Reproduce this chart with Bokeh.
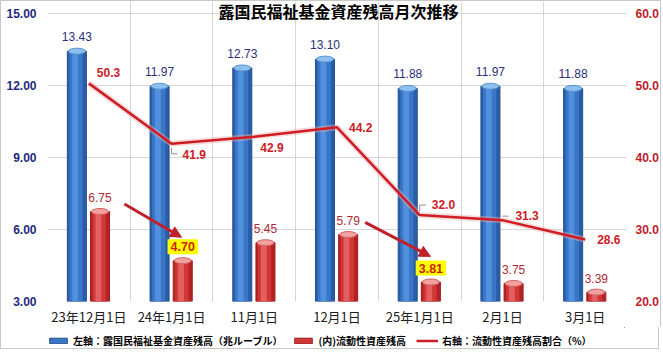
import numpy as np
from bokeh.plotting import figure
from bokeh.layouts import column
from bokeh.models import (Range1d, LinearAxis, FixedTicker, Label, Legend, LegendItem,
                          Arrow, NormalHead, NumeralTickFormatter)
from bokeh.core.properties import value
from bokeh.embed import file_html
from bokeh.resources import INLINE

# ---- data ----
categories = ["23年12月1日", "24年1月1日", "11月1日", "12月1日", "25年1月1日", "2月1日", "3月1日"]
fund_total = [13.43, 11.97, 12.73, 13.10, 11.88, 11.97, 11.88]      # 兆ルーブル (left axis)
liquid_assets = [6.75, 4.70, 5.45, 5.79, 3.81, 3.75, 3.39]         # 兆ルーブル (left axis)
liquid_ratio = [50.3, 41.9, 42.9, 44.2, 32.0, 31.3, 28.6]          # % (right axis)
highlight = [False, True, False, False, True, False, False]
left_ticks = [3, 6, 9, 12, 15]
right_ticks = [20, 30, 40, 50, 60]
title_text = "露国民福祉基金資産残高月次推移"
legend_labels = ["左軸：露国民福祉基金資産残高（兆ルーブル）", "(内)流動性資産残高", "右軸：流動性資産残高割合（%）"]

n = len(categories)
xs = np.arange(n)

JP = "Noto Sans CJK JP"
NUM = "Liberation Sans"
BORDER = "1px solid #c8c8c8"

BLUE = ("#2a5da8", "#24508f", "#3a76c6", "#5190dc", "#8cc0f0", "#5a8fd0")
RED = ("#b52226", "#a01e22", "#d03838", "#e46060", "#f2a0a0", "#d06060")
LINE = "#d01c22"

plot_px = 287.0
top_extra_px = 12.0
frame_h = int(plot_px + top_extra_px)
frame_w = 577
l_lo, l_hi = left_ticks[0], left_ticks[-1]
r_lo, r_hi = right_ticks[0], right_ticks[-1]
l_top = l_hi + top_extra_px * (l_hi - l_lo) / plot_px
r_top = r_hi + top_extra_px * (r_hi - r_lo) / plot_px

p = figure(frame_width=frame_w, frame_height=frame_h, output_backend="svg", toolbar_location=None,
           x_range=Range1d(-0.5, n - 0.5), y_range=Range1d(l_lo, l_top),
           min_border_left=46, min_border_right=36, min_border_top=0, min_border_bottom=26,
           background_fill_color="white", border_fill_color="white")
p.styles = {"border": BORDER, "border-bottom": "none"}
p.outline_line_color = None
p.extra_y_ranges = {"pct": Range1d(r_lo, r_top)}

p.xgrid.ticker = FixedTicker(ticks=list(np.arange(-0.5, n, 1.0)))
p.xgrid.bounds = (l_lo, l_hi)
p.xgrid.grid_line_color = "#d6d6d6"
p.ygrid.ticker = FixedTicker(ticks=left_ticks)
p.ygrid.bounds = (-0.5, n - 0.5)
p.ygrid.grid_line_color = "#d6d6d6"


def plain_axis(ax):
    ax.axis_line_color = None
    ax.major_tick_line_color = None
    ax.minor_tick_line_color = None
    ax.major_tick_out = 0
    ax.major_tick_in = 0
    ax.minor_tick_out = 0
    ax.minor_tick_in = 0


p.xaxis.ticker = FixedTicker(ticks=list(xs))
p.xaxis.major_label_overrides = {int(i): c for i, c in enumerate(categories)}
p.xaxis.major_label_text_font = JP
p.xaxis.major_label_text_font_size = "13px"
p.xaxis.major_label_text_color = "#202020"
p.xaxis.major_label_standoff = 5
plain_axis(p.xaxis[0])

p.yaxis.ticker = FixedTicker(ticks=left_ticks)
p.yaxis.formatter = NumeralTickFormatter(format="0.00")
p.yaxis.major_label_text_font = NUM
p.yaxis.major_label_text_font_style = "bold"
p.yaxis.major_label_text_font_size = "12px"
p.yaxis.major_label_text_color = "#1f2a80"
p.yaxis.major_label_standoff = 11
plain_axis(p.yaxis[0])

ry = LinearAxis(y_range_name="pct", ticker=FixedTicker(ticks=right_ticks),
                formatter=NumeralTickFormatter(format="0.0"))
ry.major_label_text_font = NUM
ry.major_label_text_font_style = "bold"
ry.major_label_text_font_size = "12px"
ry.major_label_text_color = "#c0202a"
ry.major_label_standoff = 9
plain_axis(ry)
p.add_layout(ry, "right")

base = l_lo
bw = 0.23
boff = -0.145
roff = 0.135


def shaded_bars(fig, x, top, pal):
    main = fig.vbar(x=x, top=top, bottom=base, width=bw, fill_color=pal[0], line_color=pal[1])
    fig.vbar(x=x - 0.01, top=top, bottom=base, width=0.16, fill_color=pal[2], line_color=None)
    fig.vbar(x=x - 0.02, top=top, bottom=base, width=0.07, fill_color=pal[3], line_color=None)
    fig.ellipse(x=x, y=top, width=17, height=6, width_units="screen", height_units="screen",
                fill_color=pal[4], line_color=pal[5])
    return main


blue_x = xs + boff
red_x = xs + roff
shaded_bars(p, blue_x, fund_total, BLUE)
shaded_bars(p, red_x, liquid_assets, RED)

p.line(x=xs, y=liquid_ratio, y_range_name="pct", line_color="#e8b0b0", line_width=6, line_alpha=0.45)
p.line(x=xs, y=liquid_ratio, y_range_name="pct", line_color=LINE, line_width=2.5)

p.text(x=blue_x, y=fund_total, text=[f"{v:.2f}" for v in fund_total], text_align="center",
       text_baseline="middle", y_offset=-15, text_font=value(NUM), text_font_size="12px",
       text_color="#2b2f80")

norm_idx = [i for i in range(n) if not highlight[i]]
hi_idx = [i for i in range(n) if highlight[i]]
p.text(x=[red_x[i] for i in norm_idx], y=[liquid_assets[i] for i in norm_idx],
       text=[f"{liquid_assets[i]:.2f}" for i in norm_idx], text_align="center",
       text_baseline="middle", y_offset=-14, text_font=value(NUM), text_font_size="12px",
       text_color="#b02a32")
p.text(x=[red_x[i] for i in hi_idx], y=[liquid_assets[i] for i in hi_idx],
       text=[f"{liquid_assets[i]:.2f}" for i in hi_idx], text_align="center",
       text_baseline="middle", y_offset=-14, text_font=value(NUM), text_font_size="12.5px",
       text_font_style="bold", text_color="#cc2200", background_fill_color="#ffff00",
       padding=3)

lab_off = [(8, -11), (11, 11), (6, 11), (12, 0), (12, -11), (13, -5), (12, 0)]
p.text(x=xs, y=liquid_ratio, y_range_name="pct", text=[f"{v:.1f}" for v in liquid_ratio],
       x_offset=[o[0] for o in lab_off], y_offset=[o[1] for o in lab_off],
       text_align="left", text_baseline="middle", text_font=value(NUM), text_font_size="12px",
       text_font_style="bold", text_color="#cc2026")

px_x = n / float(frame_w)
px_y = (r_hi - r_lo) / plot_px
leaders = {1: (10, 6), 4: (-10, 6), 5: (-4, 6)}
lx, ly = [], []
for i, (dy, dx) in leaders.items():
    x0 = xs[i]
    y0 = liquid_ratio[i]
    sgn = 1 if dy > 0 else -1
    lx.append([x0, x0, x0 + dx * px_x])
    ly.append([y0 - sgn * 4 * px_y, y0 - dy * px_y, y0 - dy * px_y])
p.multi_line(xs=lx, ys=ly, y_range_name="pct", line_color="#909090", line_width=1)

arrow_starts = [(0.43, 7.06), (3.34, 6.30)]
arrow_ends = [(1.12, 5.68), (4.13, 4.88)]
for (x0, y0), (x1, y1) in zip(arrow_starts, arrow_ends):
    p.add_layout(Arrow(x_start=x0, y_start=y0, x_end=x1, y_end=y1,
                       line_color="#c0202a", line_width=3,
                       end=NormalHead(size=11, fill_color="#c0202a", line_color="#c0202a")))

p.add_layout(Label(x=291, y=frame_h - 8.5, x_units="screen", y_units="screen",
                   text=title_text, text_align="center", text_baseline="middle", text_font=JP,
                   text_font_size="16px", text_font_style="bold", text_color="#000000"))

# ---- legend strip (separate small figure stacked below) ----
leg_h = 22
lf = figure(width=659, height=leg_h, output_backend="svg", toolbar_location=None,
            x_axis_location=None, y_axis_location=None,
            x_range=Range1d(0, 1), y_range=Range1d(0, 1),
            min_border_left=0, min_border_right=0, min_border_top=0, min_border_bottom=0,
            background_fill_color="white", border_fill_color="white")
lf.styles = {"border": BORDER, "border-top": "none"}
lf.grid.visible = False
lf.outline_line_color = None
# legend proxies drawn outside the visible range
lb = lf.vbar(x=[5], top=[5], bottom=[4], width=0.1, fill_color=BLUE[2], line_color=BLUE[1])
lr = lf.vbar(x=[5], top=[5], bottom=[4], width=0.1, fill_color=RED[2], line_color=RED[1])
ll = lf.line(x=[5, 6], y=[5, 5], line_color=LINE, line_width=2.5)
legend = Legend(items=[LegendItem(label=legend_labels[0], renderers=[lb]),
                       LegendItem(label=legend_labels[1], renderers=[lr]),
                       LegendItem(label=legend_labels[2], renderers=[ll])],
                location=(0, 1), orientation="horizontal",
                label_text_font=JP, label_text_font_size="10px", label_text_font_style="bold",
                label_text_color="#000000", glyph_width=22, glyph_height=7,
                label_standoff=4, spacing=10, padding=2, margin=0,
                border_line_color=None, background_fill_alpha=0)
lf.add_layout(legend, "center")

layout = column(p, lf, spacing=0)
open("out.html", "w").write(file_html(layout, INLINE))
